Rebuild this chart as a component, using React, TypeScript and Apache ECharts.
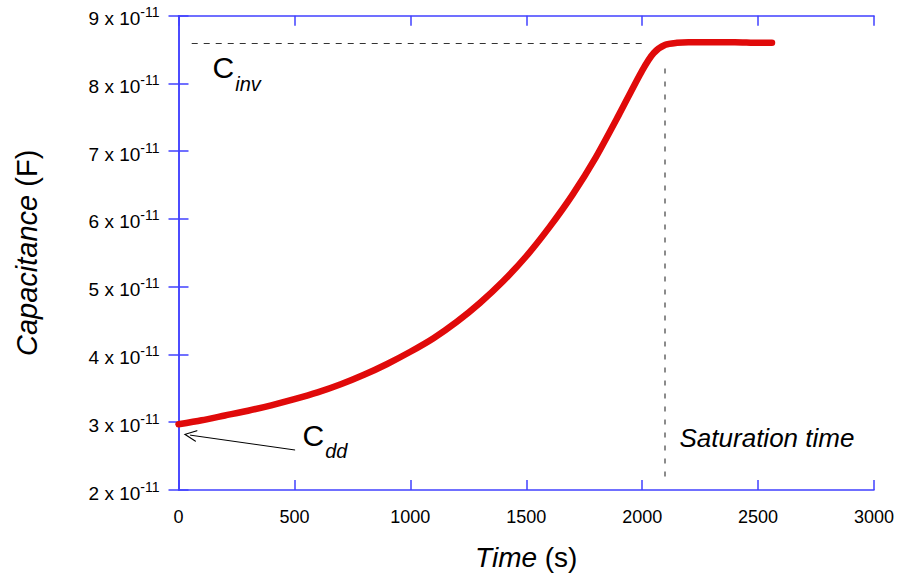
import React, { useEffect, useRef } from "react";
import * as echarts from "echarts";

// Time (s)
const timeS = [0, 100, 200, 300, 400, 500, 600, 700, 800, 900, 1000, 1100, 1200, 1300, 1400, 1500, 1600, 1700, 1800, 1900, 2000, 2050, 2100, 2150, 2200, 2300, 2400, 2500, 2560];
// Capacitance (F)
const capF = [2.97e-11, 3.03e-11, 3.1e-11, 3.17e-11, 3.25e-11, 3.34e-11, 3.44e-11, 3.56e-11, 3.7e-11, 3.86e-11, 4.04e-11, 4.24e-11, 4.48e-11, 4.76e-11, 5.08e-11, 5.45e-11, 5.88e-11, 6.36e-11, 6.91e-11, 7.54e-11, 8.19e-11, 8.45e-11, 8.57e-11, 8.6e-11, 8.61e-11, 8.61e-11, 8.61e-11, 8.6e-11, 8.6e-11];

const xTicks = [0, 500, 1000, 1500, 2000, 2500, 3000];
const yTicks = [2e-11, 3e-11, 4e-11, 5e-11, 6e-11, 7e-11, 8e-11, 9e-11];

const cInv = 8.6e-11;
const saturationTime = 2096;

const BLUE = "#4040ff";
const RED = "#e00a0a";
const FONT = "'Liberation Sans', Arial, sans-serif";

export default function App() {
  const ref = useRef<HTMLDivElement>(null);
  useEffect(() => {
    document.body.style.margin = "0";
    if (!ref.current) return;
    const chart = echarts.init(ref.current, null, { renderer: "svg" });
    const data = timeS.map((t, i) => [t, capF[i]]);
    const yLabel = (v: number) => `{n|${Math.round(v / 1e-11)} x 10}{e|-11}`;
    const axisBase = {
      axisLine: { show: true, lineStyle: { color: BLUE, width: 1.5 } },
      axisTick: { show: true, inside: true, length: 10, lineStyle: { color: BLUE, width: 1.5 } },
      splitLine: { show: false },
    };
    const subRich = {
      c: { fontSize: 30, lineHeight: 30, verticalAlign: "top", fontFamily: FONT, color: "#000" },
      s: { fontSize: 20, lineHeight: 20, padding: [21, 0, 0, 1], verticalAlign: "top", fontStyle: "italic", fontFamily: FONT, color: "#000" },
    };
    chart.setOption({
      animation: false,
      backgroundColor: "#ffffff",
      textStyle: { fontFamily: FONT },
      grid: { left: 178.5, top: 15.7, right: 28, bottom: 90 },
      xAxis: [
        {
          type: "value",
          min: xTicks[0],
          max: xTicks[xTicks.length - 1],
          interval: 500,
          position: "bottom",
          ...axisBase,
          axisLabel: { color: "#000", fontSize: 18, margin: 18, fontFamily: FONT, formatter: (v: number) => String(v) },
          name: "{i|Time} (s)",
          nameLocation: "middle",
          nameGap: 53,
          nameTextStyle: {
            color: "#000",
            fontSize: 28,
            fontFamily: FONT,
            rich: { i: { fontSize: 28, fontStyle: "italic", fontFamily: FONT, color: "#000" } },
          },
        },
        {
          type: "value",
          min: xTicks[0],
          max: xTicks[xTicks.length - 1],
          interval: 500,
          position: "top",
          ...axisBase,
          axisLabel: { show: false },
        },
      ],
      yAxis: [
        {
          type: "value",
          min: yTicks[0],
          max: yTicks[yTicks.length - 1],
          interval: 1e-11,
          position: "left",
          ...axisBase,
          axisLabel: {
            color: "#000",
            margin: 19,
            formatter: yLabel,
            rich: {
              n: { fontSize: 19, lineHeight: 21, padding: [4, 0, 4, 0], verticalAlign: "top", fontFamily: FONT, color: "#000" },
              e: { fontSize: 14, lineHeight: 15, verticalAlign: "top", fontFamily: FONT, color: "#000" },
            },
          },
          name: "{i|Capacitance} (F)",
          nameLocation: "middle",
          nameRotate: 90,
          nameGap: 137,
          nameTextStyle: {
            color: "#000",
            fontSize: 29,
            fontFamily: FONT,
            rich: { i: { fontSize: 29, fontStyle: "italic", fontFamily: FONT, color: "#000" } },
          },
        },
        {
          type: "value",
          min: yTicks[0],
          max: yTicks[yTicks.length - 1],
          interval: 1e-11,
          position: "right",
          ...axisBase,
          axisLabel: { show: false },
        },
      ],
      series: [
        {
          type: "line",
          data,
          smooth: 0.25,
          showSymbol: false,
          lineStyle: { color: RED, width: 6.5, cap: "round", join: "round" },
          itemStyle: { color: RED },
          z: 3,
          markLine: {
            silent: true,
            symbol: "none",
            label: { show: false },
            data: [
              [
                { coord: [57, cInv], lineStyle: { color: "#333", width: 1, type: [6, 6] } },
                { coord: [2020, cInv] },
              ],
              [
                { coord: [saturationTime, 2.2e-11], lineStyle: { color: "#666", width: 1.5, type: [5, 8] } },
                { coord: [saturationTime, 8.3e-11] },
              ],
              [
                { coord: [503, 2.59e-11], symbol: "none", lineStyle: { color: "#000", width: 1, type: "solid" } },
                { coord: [50, 2.81e-11], symbol: "path://M5,0 L10,10 L9,10 L5,2 L1,10 L0,10 Z", symbolSize: [12, 13] },
              ],
            ],
          },
          markPoint: {
            silent: true,
            symbol: "circle",
            symbolSize: 1,
            itemStyle: { color: "transparent" },
            data: [
              {
                coord: [145, 8.23e-11],
                label: { show: true, position: "right", distance: 0, formatter: "{c|C}{s|inv}", rich: subRich },
              },
              {
                coord: [533, 2.81e-11],
                label: { show: true, position: "right", distance: 0, formatter: "{c|C}{s|dd}", rich: subRich },
              },
              {
                coord: [2159, 2.77e-11],
                label: {
                  show: true,
                  position: "right",
                  distance: 0,
                  formatter: "Saturation time",
                  fontSize: 26,
                  fontStyle: "italic",
                  fontFamily: FONT,
                  color: "#000",
                },
              },
            ],
          },
        },
      ],
    });
    return () => chart.dispose();
  }, []);
  return <div ref={ref} style={{ width: 902, height: 580 }} />;
}
